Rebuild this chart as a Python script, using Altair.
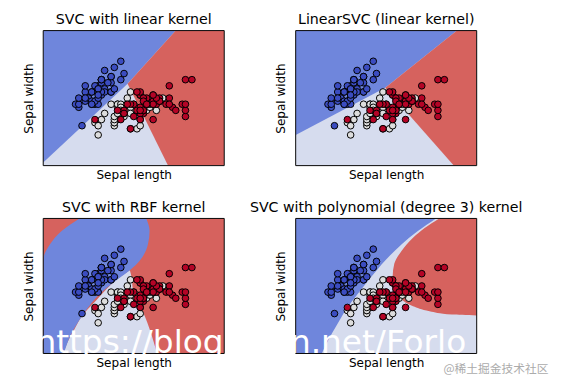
import altair as alt
import pandas as pd

# ---- iris data (sepal length / sepal width) ----
sepal_length = [5.1,4.9,4.7,4.6,5.0,5.4,4.6,5.0,4.4,4.9,5.4,4.8,4.8,4.3,5.8,5.7,5.4,5.1,5.7,5.1,
                5.4,5.1,4.6,5.1,4.8,5.0,5.0,5.2,5.2,4.7,4.8,5.4,5.2,5.5,4.9,5.0,5.5,4.9,4.4,5.1,
                5.0,4.5,4.4,5.0,5.1,4.8,5.1,4.6,5.3,5.0,
                7.0,6.4,6.9,5.5,6.5,5.7,6.3,4.9,6.6,5.2,5.0,5.9,6.0,6.1,5.6,6.7,5.6,5.8,6.2,5.6,
                5.9,6.1,6.3,6.1,6.4,6.6,6.8,6.7,6.0,5.7,5.5,5.5,5.8,6.0,5.4,6.0,6.7,6.3,5.6,5.5,
                5.5,6.1,5.8,5.0,5.6,5.7,5.7,6.2,5.1,5.7,
                6.3,5.8,7.1,6.3,6.5,7.6,4.9,7.3,6.7,7.2,6.5,6.4,6.8,5.7,5.8,6.4,6.5,7.7,7.7,6.0,
                6.9,5.6,7.7,6.3,6.7,7.2,6.2,6.1,6.4,7.2,7.4,7.9,6.4,6.3,6.1,7.7,6.3,6.4,6.0,6.9,
                6.7,6.9,5.8,6.8,6.7,6.7,6.3,6.5,6.2,5.9]
sepal_width = [3.5,3.0,3.2,3.1,3.6,3.9,3.4,3.4,2.9,3.1,3.7,3.4,3.0,3.0,4.0,4.4,3.9,3.5,3.8,3.8,
               3.4,3.7,3.6,3.3,3.4,3.0,3.4,3.5,3.4,3.2,3.1,3.4,4.1,4.2,3.1,3.2,3.5,3.6,3.0,3.4,
               3.5,2.3,3.2,3.5,3.8,3.0,3.8,3.2,3.7,3.3,
               3.2,3.2,3.1,2.3,2.8,2.8,3.3,2.4,2.9,2.7,2.0,3.0,2.2,2.9,2.9,3.1,3.0,2.7,2.2,2.5,
               3.2,2.8,2.5,2.8,2.9,3.0,2.8,3.0,2.9,2.6,2.4,2.4,2.7,2.7,3.0,3.4,3.1,2.3,3.0,2.5,
               2.6,3.0,2.6,2.3,2.7,3.0,2.9,2.9,2.5,2.8,
               3.3,2.7,3.0,2.9,3.0,3.0,2.5,2.9,2.5,3.6,3.2,2.7,3.0,2.5,2.8,3.2,3.0,3.8,2.6,2.2,
               3.2,2.8,2.8,2.7,3.3,3.2,2.8,3.0,2.8,3.0,2.8,3.8,2.8,2.8,2.6,3.0,3.4,3.1,3.0,3.1,
               3.1,3.1,2.7,3.2,3.3,3.0,2.5,3.0,3.4,3.0]
species = [0] * 50 + [1] * 50 + [2] * 50

titles = ["SVC with linear kernel", "LinearSVC (linear kernel)",
          "SVC with RBF kernel", "SVC with polynomial (degree 3) kernel"]
x_label = "Sepal length"
y_label = "Sepal width"
x_range = [3.3, 8.9]
y_range = [1.0, 5.4]

# ---- decision regions: rows of (sepal width, left edge, right edge) ----
# panel 1: SVC linear
p1_light_y = [1.0, 5.4];        p1_light_xl = [3.3, 3.3];          p1_light_xr = [8.9, 8.9]
p1_blue_y = [1.1, 3.67, 5.4];   p1_blue_xl = [3.3, 3.3, 3.3];      p1_blue_xr = [3.3, 5.91, 7.40]
p1_red_y = [1.0, 3.67, 5.4];    p1_red_xl = [7.16, 5.91, 7.40];    p1_red_xr = [8.9, 8.9, 8.9]
# panel 2: LinearSVC
p2_light_y = [1.0, 5.4];        p2_light_xl = [3.3, 3.3];          p2_light_xr = [8.9, 8.9]
p2_blue_y = [2.0, 3.54, 5.4];   p2_blue_xl = [3.3, 3.3, 3.3];      p2_blue_xr = [3.3, 6.07, 8.29]
p2_red_y = [1.0, 3.54, 5.4];    p2_red_xl = [8.19, 6.07, 8.29];    p2_red_xr = [8.9, 8.9, 8.9]
# panel 3: RBF
p3_red_y = [1.0, 5.4];          p3_red_xl = [3.3, 3.3];            p3_red_xr = [8.9, 8.9]
p3_light_y = [1.0, 1.37, 1.80, 2.22, 2.65, 3.07, 3.50, 3.71]
p3_light_xl = [3.92, 4.05, 4.27, 4.50, 4.87, 5.23, 5.68, 5.98]
p3_light_xr = [6.82, 6.72, 6.59, 6.44, 6.24, 6.08, 6.03, 5.98]
p3_blue_y = [1.0, 1.58, 2.01, 2.43, 2.86, 3.28, 3.71, 4.03, 4.56, 4.99, 5.4]
p3_blue_xl = [3.3, 3.3, 3.3, 3.3, 3.3, 3.3, 3.3, 3.3, 3.51, 3.87, 4.42]
p3_blue_xr = [3.94, 4.14, 4.37, 4.64, 4.97, 5.43, 5.98, 6.29, 6.54, 6.59, 6.49]
# panel 4: polynomial
p4_light_y = [1.0, 5.4];        p4_light_xl = [3.3, 3.3];          p4_light_xr = [8.9, 8.9]
p4_blue_y = [1.0, 1.48, 1.90, 2.43, 2.97, 3.50, 4.03, 4.56, 4.99, 5.4]
p4_blue_xl = [3.3] * 10
p4_blue_xr = [4.11, 4.33, 4.56, 4.86, 5.24, 5.64, 6.07, 6.58, 7.08, 7.64]
p4_red_y = [2.24, 2.27, 2.38, 2.54, 2.75, 3.07, 3.50, 3.92, 4.35, 4.77, 5.09, 5.4]
p4_red_xl = [8.9, 8.14, 7.44, 6.93, 6.58, 6.38, 6.30, 6.35, 6.58, 6.93, 7.29, 7.74]
p4_red_xr = [8.9] * 12

watermark = "https://blog.csdn.net/Forlo"
credit = "@稀土掘金技术社区"

region_sets = [
    [("light", p1_light_y, p1_light_xl, p1_light_xr), ("blue", p1_blue_y, p1_blue_xl, p1_blue_xr),
     ("red", p1_red_y, p1_red_xl, p1_red_xr)],
    [("light", p2_light_y, p2_light_xl, p2_light_xr), ("blue", p2_blue_y, p2_blue_xl, p2_blue_xr),
     ("red", p2_red_y, p2_red_xl, p2_red_xr)],
    [("red", p3_red_y, p3_red_xl, p3_red_xr), ("light", p3_light_y, p3_light_xl, p3_light_xr),
     ("blue", p3_blue_y, p3_blue_xl, p3_blue_xr)],
    [("light", p4_light_y, p4_light_xl, p4_light_xr), ("blue", p4_blue_y, p4_blue_xl, p4_blue_xr),
     ("red", p4_red_y, p4_red_xl, p4_red_xr)],
]
interps = ["linear", "linear", "monotone", "monotone"]

pts = pd.DataFrame({"sl": sepal_length, "sw": sepal_width, "sp": species})
frame_df = pd.DataFrame({"x": [x_range[0]], "x2": [x_range[1]], "y": [y_range[0]], "y2": [y_range[1]]})

xscale = alt.Scale(domain=x_range, nice=False, zero=False)
yscale = alt.Scale(domain=y_range, nice=False, zero=False)
xaxis = alt.Axis(title=x_label, labels=False, ticks=False, domain=False, grid=False, titlePadding=3)
yaxis = alt.Axis(title=y_label, labels=False, ticks=False, domain=False, grid=False, titlePadding=8)
region_scale = alt.Scale(domain=["blue", "light", "red"], range=["#6F86DC", "#D6DCEE", "#D6625E"])
point_scale = alt.Scale(domain=[0, 1, 2], range=["#3B4CC0", "#DDDDDD", "#B40426"])


def make_panel(i):
    layers = []
    for cls, ys, xls, xrs in region_sets[i]:
        df = pd.DataFrame({"y": ys, "xl": xls, "xr": xrs, "cls": cls})
        layers.append(
            alt.Chart(df).mark_area(orient="horizontal", interpolate=interps[i], clip=True).encode(
                y=alt.Y("y:Q", scale=yscale, axis=yaxis),
                x=alt.X("xl:Q", scale=xscale, axis=xaxis),
                x2="xr:Q",
                color=alt.Color("cls:N", scale=region_scale, legend=None),
            )
        )
    layers.append(
        alt.Chart(frame_df).mark_rect(fill=None, stroke="black", strokeWidth=1).encode(
            x=alt.X("x:Q", scale=xscale, axis=xaxis), x2="x2:Q",
            y=alt.Y("y:Q", scale=yscale, axis=yaxis), y2="y2:Q",
        )
    )
    layers.append(
        alt.Chart(pts).mark_circle(size=46, stroke="black", strokeWidth=1, opacity=1).encode(
            x=alt.X("sl:Q", scale=xscale, axis=xaxis),
            y=alt.Y("sw:Q", scale=yscale, axis=yaxis),
            fill=alt.Fill("sp:N", scale=point_scale, legend=None),
        )
    )
    if i == 3:
        layers.append(
            alt.Chart(pd.DataFrame({"t": [watermark]})).mark_text(
                align="left", baseline="alphabetic", fontSize=33.5, font="DejaVu Sans",
                color="white", clip=False).encode(text="t:N", x=alt.value(-266), y=alt.value(138))
        )
        layers.append(
            alt.Chart(pd.DataFrame({"t": [credit]})).mark_text(
                align="left", baseline="alphabetic", fontSize=12, font="Noto Sans CJK SC",
                color="#ABABAB", clip=False).encode(text="t:N", x=alt.value(151), y=alt.value(158))
        )
    return alt.layer(*layers).properties(width=185, height=138, title=titles[i])


chart = alt.concat(
    *[make_panel(i) for i in range(4)], columns=2,
    spacing={"row": 54, "column": 73},
).properties(
    bounds="flush",
    padding={"left": 15, "top": 0, "right": 5, "bottom": 0},
).configure(font="DejaVu Sans").configure_view(
    stroke=None
).configure_axis(
    titleFont="DejaVu Sans", titleFontSize=12.3, titleFontWeight="normal", titleColor="black"
).configure_title(
    font="DejaVu Sans", fontSize=14.5, fontWeight="normal", color="black", offset=3
)

chart.save("out.html", embed_options={"renderer": "svg", "actions": False})
